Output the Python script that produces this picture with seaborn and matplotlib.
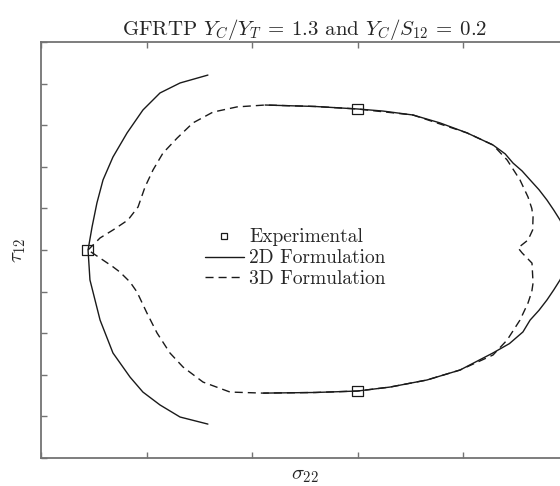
import numpy as np
import matplotlib
matplotlib.use("Agg")
import matplotlib.pyplot as plt
from matplotlib.lines import Line2D
import seaborn as sns

# experimental points (sigma_22, tau_12), normalised
exp_x = [-1.28, 0.0, 0.0]
exp_y = [0.0, 0.678, -0.678]

# 2D formulation, compressive branch
arc_x = [-0.709, -0.775, -0.841, -0.936, -1.017, -1.092, -1.159, -1.206, -1.235, -1.258, -1.277,
         -1.268, -1.220, -1.159, -1.078, -1.017, -0.936, -0.841, -0.775, -0.709]
arc_y = [0.841, 0.822, 0.803, 0.755, 0.673, 0.563, 0.447, 0.337, 0.226, 0.111, 0.0,
         -0.144, -0.337, -0.495, -0.611, -0.683, -0.745, -0.803, -0.820, -0.837]

# 2D formulation, main branch
f2d_x = [-0.438, -0.2, 0.0, 0.121, 0.263, 0.391, 0.519, 0.642, 0.700, 0.737, 0.780, 0.818, 0.860,
         0.898, 0.930, 0.960, 0.978, 0.990, 0.997, 1.0,
         0.997, 0.990, 0.978, 0.960, 0.930, 0.898, 0.860, 0.818, 0.784, 0.720, 0.642, 0.486,
         0.329, 0.154, 0.0, -0.2, -0.445]
f2d_y = [0.697, 0.69, 0.678, 0.668, 0.649, 0.611, 0.563, 0.505, 0.462, 0.418, 0.380, 0.337, 0.290,
         0.240, 0.192, 0.144, 0.105, 0.070, 0.035, 0.0,
         -0.035, -0.070, -0.105, -0.144, -0.192, -0.240, -0.290, -0.337, -0.394, -0.450, -0.495, -0.577,
         -0.625, -0.659, -0.678, -0.685, -0.688]

# 3D formulation (closed)
f3d_x = [-1.277, -1.220, -1.159, -1.088, -1.040, -1.007, -0.969, -0.922, -0.855, -0.780, -0.685, -0.571,
         -0.438, -0.2, 0.0, 0.263, 0.519, 0.642, 0.709, 0.770, 0.808, 0.826, 0.832, 0.830, 0.808, 0.761,
         0.780, 0.827, 0.832, 0.826, 0.808, 0.770, 0.709, 0.642, 0.486, 0.329, 0.154, 0.0, -0.2,
         -0.448, -0.604, -0.732, -0.827, -0.889, -0.950, -0.998, -1.045, -1.078, -1.126, -1.16, -1.277]
f3d_y = [0.0, 0.058, 0.096, 0.144, 0.207, 0.303, 0.385, 0.466, 0.538, 0.611, 0.663, 0.688,
         0.697, 0.69, 0.678, 0.649, 0.563, 0.505, 0.433, 0.337, 0.255, 0.200, 0.159, 0.096, 0.048, 0.01,
         -0.014, -0.063, -0.159, -0.200, -0.255, -0.337, -0.433, -0.505, -0.577, -0.625, -0.659, -0.678, -0.685,
         -0.688, -0.683, -0.635, -0.5625, -0.495, -0.399, -0.303, -0.202, -0.154, -0.106, -0.08, 0.0]

xticks = [-1.5, -1.0, -0.5, 0.0, 0.5, 1.0]
yticks = [-1.0, -0.8, -0.6, -0.4, -0.2, 0.0, 0.2, 0.4, 0.6, 0.8, 1.0]

sns.set_theme(style="ticks")
plt.rcParams.update({
    "font.family": "serif",
    "font.serif": ["cmr10", "DejaVu Serif"],
    "mathtext.fontset": "cm",
    "axes.unicode_minus": False,
    "axes.formatter.use_mathtext": True,
})

fig = plt.figure(figsize=(5.6, 4.86), dpi=100)
ax = fig.add_axes([41 / 560, 28 / 486, 527.5 / 560, 416 / 486])

dash = (0, (5.8, 3.6))
sns.lineplot(x=f3d_x, y=f3d_y, sort=False, estimator=None, color="k", lw=1.0, linestyle=dash, ax=ax)
sns.lineplot(x=arc_x, y=arc_y, sort=False, estimator=None, color="k", lw=1.0, ax=ax)
sns.lineplot(x=f2d_x, y=f2d_y, sort=False, estimator=None, color="k", lw=1.0, ax=ax)
sns.scatterplot(x=exp_x, y=exp_y, marker="s", s=55, facecolor="none", edgecolor="k", linewidth=0.9, ax=ax, zorder=5)

ax.set_xlim(-1.5, 1.0)
ax.set_ylim(-1.0, 1.0)
ax.set_xticks(xticks)
ax.set_yticks(yticks)
ax.set_xticklabels([])
ax.set_yticklabels([])
ax.tick_params(direction="in", length=4, width=1, color="0.45", top=True, right=True)
for sp in ax.spines.values():
    sp.set_visible(True)
    sp.set_color("0.45")
    sp.set_linewidth(1.3)

ax.set_xlabel(r"$\sigma_{22}$", fontsize=15, labelpad=3)
ax.set_ylabel(r"$\tau_{12}$", fontsize=15, labelpad=6)
ax.set_title(r"GFRTP $Y_C/Y_T\:=\:1.3$ and $Y_C/S_{12}\:=\:0.2$", fontsize=15, pad=5)

handles = [
    Line2D([], [], marker="s", ls="none", mfc="none", mec="k", ms=4, mew=0.9),
    Line2D([], [], color="k", lw=1.0),
    Line2D([], [], color="k", lw=1.0, linestyle=dash),
]
ax.legend(handles, ["Experimental", "2D Formulation", "3D Formulation"],
          loc="center", bbox_to_anchor=(0.482, 0.48), frameon=False, fontsize=14,
          handlelength=2.0, handletextpad=0.3, labelspacing=0.15)

fig.savefig("out.png", dpi=100)
